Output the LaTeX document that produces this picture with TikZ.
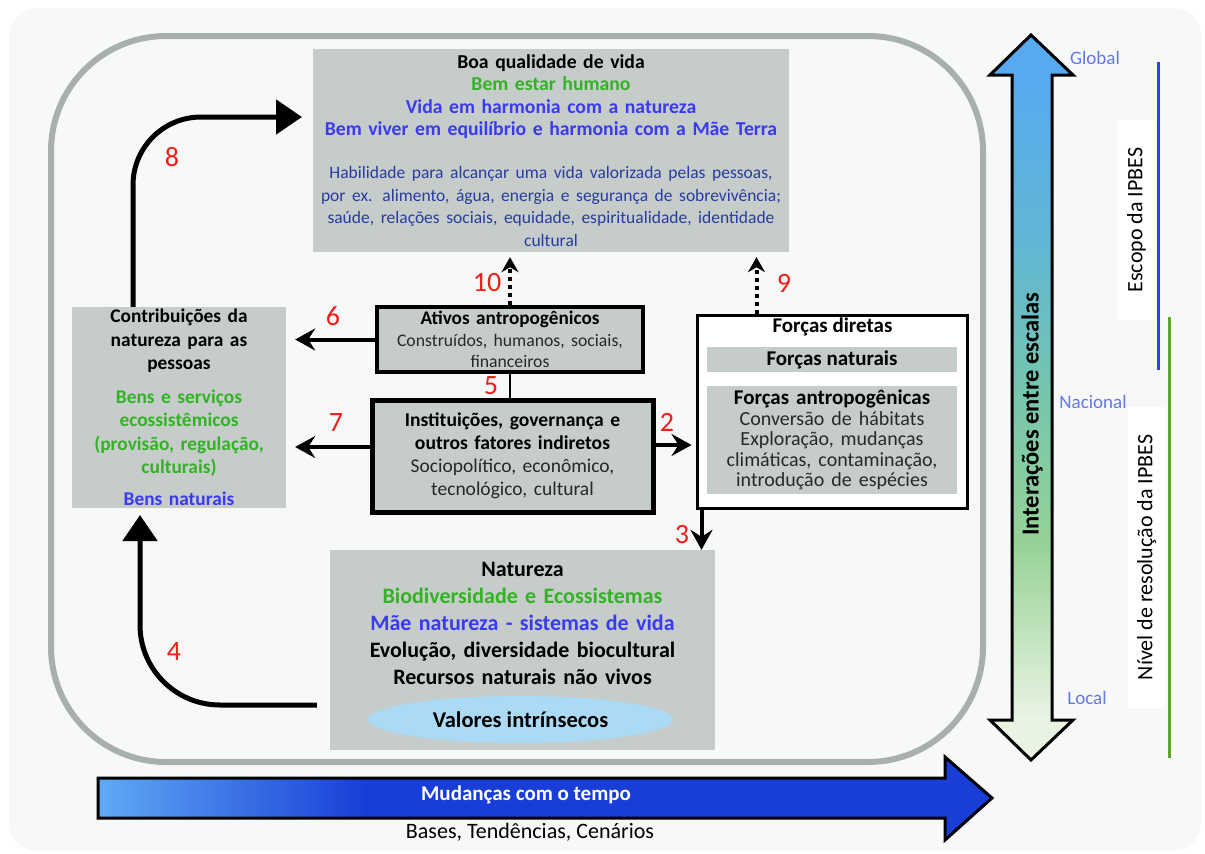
\documentclass[tikz,border=0pt]{standalone}
\usepackage{fontspec}
\setmainfont{Carlito}
\usetikzlibrary{arrows.meta,shapes.geometric}

\definecolor{boxgray}{RGB}{197,204,202}
\definecolor{framegray}{RGB}{168,176,174}
\definecolor{panel}{RGB}{247,248,248}
\definecolor{natgreen}{RGB}{52,178,38}
\definecolor{vivblue}{RGB}{58,58,240}
\definecolor{txtblue}{RGB}{40,60,160}
\definecolor{darktxt}{RGB}{40,40,40}
\definecolor{numred}{RGB}{240,30,25}
\definecolor{scaleblue}{RGB}{100,120,230}
\definecolor{ipbesblue}{RGB}{40,70,230}
\definecolor{ipbesgreen}{RGB}{90,168,40}
\definecolor{ellblue}{RGB}{170,218,245}
\definecolor{lightb}{RGB}{95,170,245}
\definecolor{darkb}{RGB}{25,62,215}
\definecolor{palegreen}{RGB}{232,243,226}
\definecolor{midgreen}{RGB}{150,210,150}
\definecolor{tealgreen}{RGB}{118,198,172}
\definecolor{tealblue}{RGB}{98,183,210}
\definecolor{skyblue}{RGB}{88,170,240}

\pgfdeclarehorizontalshading{timeshade}{100bp}{color(0bp)=(lightb); color(25bp)=(lightb); color(40bp)=(darkb); color(100bp)=(darkb)}
\pgfdeclareverticalshading{scaleshade}{100bp}{color(0bp)=(palegreen); color(28bp)=(palegreen); color(40bp)=(midgreen); color(50bp)=(tealgreen); color(60bp)=(tealblue); color(72bp)=(skyblue); color(100bp)=(skyblue)}

\newcommand{\setfs}[2]{\fontsize{#1}{#2}\selectfont}

\begin{document}
\begin{tikzpicture}[x=1pt,y=-1pt,
    greybox/.style={fill=boxgray,inner sep=0pt,align=center},
    framebox/.style={greybox,draw=black},
    num/.style={text=numred,font=\setfs{28}{28}},
    bigarrow/.style={line width=5pt,-{Triangle[length=26pt,width=34pt]}},
    midarrow/.style={line width=4pt,-{Stealth[length=20pt,width=22pt,inset=7pt]}},
    dotarrow/.style={line width=4pt,dash pattern=on 4pt off 4pt,-{Stealth[length=15pt,width=17pt,inset=5pt]}},
    scalelbl/.style={text=scaleblue,font=\setfs{19}{22}},
    ipbesbox/.style={fill=white,rotate=90,inner sep=0pt,minimum height=37pt,font=\setfs{22}{24}}]

\useasboundingbox (0,0) rectangle (1205,854);
\fill[panel,rounded corners=28pt] (9,8) rectangle (1201,851);
\draw[framegray,line width=6pt,rounded corners=115pt] (51,36) rectangle (983,762);

% boxes
\node[greybox,minimum width=476pt,minimum height=203pt,text width=470pt,font=\setfs{19.7}{22.5}] (vida) at (551,150.5)
  {\bfseries Boa qualidade de vida\\
   \color{natgreen}Bem estar humano\\
   \color{vivblue}Vida em harmonia com a natureza\\
   Bem viver em equilíbrio e harmonia com a Mãe Terra\\[20.5pt]
   \setfs{17.5}{22.5}\mdseries\color{txtblue}Habilidade para alcançar uma vida valorizada pelas pessoas,\\
   por ex. alimento, água, energia e segurança de sobrevivência;\\
   saúde, relações sociais, equidade, espiritualidade, identidade\\
   cultural};
\node[greybox,minimum width=214pt,minimum height=201pt,text width=212pt,font=\setfs{19.4}{23.3}] (contrib) at (179,407.5)
  {\bfseries Contribuições da\\ natureza para as\\ pessoas\\[10.7pt]
   \color{natgreen}Bens e serviços\\ ecossistêmicos\\ (provisão, regulação,\\ culturais)\\[8.7pt]
   \color{vivblue}Bens naturais};
\node[framebox,line width=3.5pt,minimum width=266pt,minimum height=65pt,text width=262pt,font=\setfs{19.2}{21.5}] (ativos) at (510,339.5)
  {\bfseries Ativos antropogênicos\\
   \mdseries\setfs{17.7}{21.5}\color{darktxt}Construídos, humanos, sociais,\\ financeiros};
\node[framebox,line width=5pt,minimum width=281pt,minimum height=112pt,text width=274pt,font=\setfs{19.6}{23}] (instit) at (512.5,456)
  {\bfseries Instituições, governança e\\ outros fatores indiretos\\
   \mdseries\setfs{19.5}{23}\color{darktxt}Sociopolítico, econômico,\\ tecnológico, cultural};
\draw[line width=2pt] (ativos.south) -- (ativos.south |- instit.north);

\node[draw=black,fill=white,line width=3pt,minimum width=270pt,minimum height=193pt] (forcas) at (832,411.5) {};
\node[fill=white,minimum width=199pt,minimum height=20pt,inner sep=0pt,font=\setfs{21}{22}\bfseries] (diretas) at (832.5,327) {Forças diretas};
\node[greybox,minimum width=250pt,minimum height=25pt,font=\setfs{21}{22}\bfseries] (naturais) at (832,359.5) {Forças naturais};
\node[greybox,minimum width=250pt,minimum height=108pt,text width=248pt,font=\setfs{21}{20.5}] (antrop) at (832,440)
  {\bfseries Forças antropogênicas\\
   \mdseries\setfs{20}{20.5}\color{darktxt}Conversão de hábitats\\ Exploração, mudanças\\ climáticas, contaminação,\\ introdução de espécies};

\node[greybox,minimum width=385pt,minimum height=200pt,text width=383pt,font=\setfs{22}{27}] (natureza) at (522.5,650)
  {\bfseries Natureza\\
   \color{natgreen}Biodiversidade e Ecossistemas\\
   \color{vivblue}Mãe natureza - sistemas de vida\\
   \color{black}Evolução, diversidade biocultural\\
   Recursos naturais não vivos\rule[-54pt]{0pt}{54pt}};
\node[ellipse,fill=ellblue,minimum width=305pt,minimum height=47pt,inner sep=0pt,font=\setfs{22.5}{24}\bfseries] (valores) at (520.5,719.5) {Valores intrínsecos};

% arrows
\coordinate (c8) at (133,0);
\coordinate (t8) at (302,117);
\draw[bigarrow,rounded corners=68pt] (contrib.north -| c8) |- (t8);
\coordinate (s4) at (317,705);
\coordinate (t4) at (140,515);
\draw[bigarrow,rounded corners=80pt,shorten <=13pt] (natureza.west |- s4) -| (t4);

\path ([yshift=9pt]instit.west) coordinate (i7)
      ([yshift=11pt]instit.east) coordinate (i2)
      ([xshift=6pt]forcas.south west) coordinate (f3)
      ([xshift=61pt]forcas.north west) coordinate (f9);
\draw[midarrow,shorten >=9pt] (ativos.west) -- (ativos.west -| contrib.east);
\draw[midarrow,shorten >=9pt] (i7) -- (i7 -| contrib.east);
\draw[midarrow,shorten >=4pt] (i2) -- (i2 -| forcas.west);
\draw[midarrow] (f3) -- (f3 |- natureza.north);
\draw[dotarrow,shorten >=5pt] (ativos.north) -- (ativos.north |- vida.south);
\draw[dotarrow,shorten >=5pt] (f9) -- (f9 |- vida.south);

% numbers
\node[num] (l8) at (172,157) {8};
\node[num] (l4) at (174,652) {4};
\node[num] (l6) at (333,316) {6};
\node[num] (l7) at (336,423) {7};
\node[num] (l5) at (491,386) {5};
\node[num] (l2) at (667,422) {2};
\node[num] (l3) at (682,535) {3};
\node[num] (l10) at (487,283) {10};
\node[num] (l9) at (784,283) {9};

% scales
\shadedraw[shading=scaleshade,draw=black,line width=3pt]
  (1012,75) -- (990,75) -- (1031,35) -- (1073,75) -- (1052,75) -- (1052,720)
  -- (1073,720) -- (1031,760) -- (990,720) -- (1012,720) -- cycle;
\node[rotate=90,font=\setfs{24.5}{26}\bfseries] (escalas) at (1032,414) {Interações entre escalas};
\node[scalelbl] (global) at (1095,58) {Global};
\node[scalelbl] (nacional) at (1093,402) {Nacional};
\node[scalelbl] (local) at (1087,698) {Local};
\draw[ipbesblue,line width=3pt] (1158,62) -- (1158,370);
\draw[ipbesgreen,line width=3pt] (1169,317) -- (1169,758);
\node[ipbesbox,minimum width=200pt] (escopo) at (1136.5,220) {Escopo da IPBES};
\node[ipbesbox,minimum width=301pt] (nivel) at (1146.5,557.5) {Nível de resolução da IPBES};

% time
\shadedraw[shading=timeshade,draw=black,line width=3pt]
  (98,778) -- (945,778) -- (945,757) -- (992,798) -- (945,840) -- (945,818) -- (98,818) -- cycle;
\node[text=white,font=\setfs{21}{22}\bfseries] (tempo) at (526,795) {Mudanças com o tempo};
\node[font=\setfs{22}{24}] (bases) at (530,832) {Bases, Tendências, Cenários};
\end{tikzpicture}
\end{document}
